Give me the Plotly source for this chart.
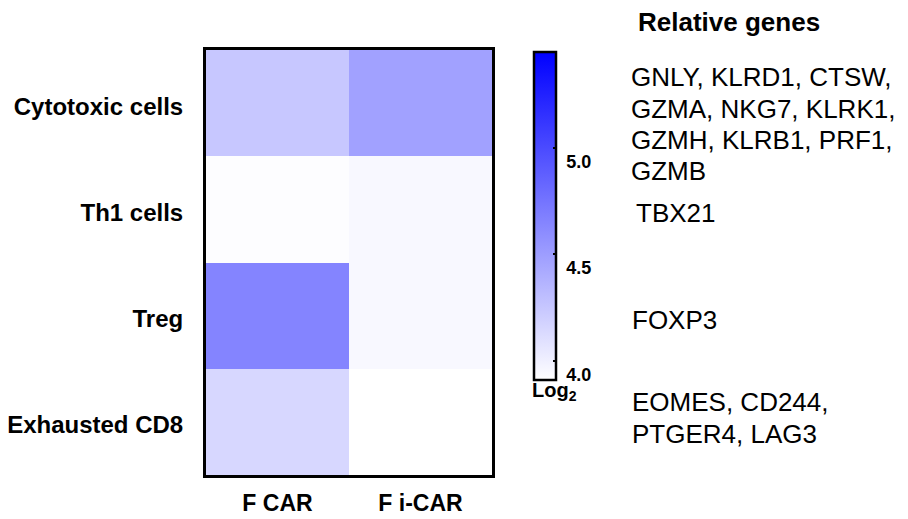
import plotly.graph_objects as go

# ---- data ----
cell_types = ["Cytotoxic cells", "Th1 cells", "Treg", "Exhausted CD8"]
groups = ["F CAR", "F i-CAR"]
f_car = [4.25, 3.92, 4.65, 4.15]
f_icar = [4.48, 3.95, 3.95, 3.91]
cbar_ticks = [4.0, 4.5, 5.0]
cbar_ticktext = ["4.0", "4.5", "5.0"]
cbar_title = "Log<sub>2</sub>"
genes_title = "Relative genes"
gene_lines = [
    ["GNLY, KLRD1, CTSW,", "GZMA, NKG7, KLRK1,", "GZMH, KLRB1, PRF1,", "GZMB"],
    ["TBX21"],
    ["FOXP3"],
    ["EOMES, CD244,", "PTGER4, LAG3"],
]
cmin, cmax = 3.91, 5.45

FONT = "Arial, Liberation Sans, sans-serif"
NBSP = "\u00a0"

W, H = 908, 519
L, R, T, B = 206, 492, 50, 475
pw, ph = R - L, B - T


def px(x):
    return (x - L) / pw


def py(y):
    return (B - y) / ph


z = [[a, b] for a, b in zip(f_car, f_icar)]

fig = go.Figure(
    go.Heatmap(
        z=z,
        x=groups,
        y=cell_types,
        zmin=cmin,
        zmax=cmax,
        colorscale=[[0, "#FFFFFF"], [1, "#0000FF"]],
        showscale=True,
        colorbar=dict(
            x=px(534),
            xanchor="left",
            xpad=0,
            y=py(52),
            yanchor="top",
            ypad=0,
            lenmode="pixels",
            len=328,
            thicknessmode="pixels",
            thickness=22,
            outlinecolor="black",
            outlinewidth=2.5,
            tickmode="array",
            tickvals=cbar_ticks,
            ticktext=[NBSP + t for t in cbar_ticktext],
            ticks="inside",
            ticklen=4,
            tickwidth=2,
            tickcolor="black",
            ticklabelposition="outside bottom",
            tickfont=dict(family=FONT, size=18, color="black", weight="bold"),
        ),
        hoverinfo="skip",
    )
)

fig.update_xaxes(
    automargin=False,
    showline=True,
    mirror=True,
    linewidth=3,
    linecolor="black",
    ticks="",
    ticklabelstandoff=5,
    tickfont=dict(family=FONT, size=23, color="black", weight="bold"),
    showgrid=False,
    zeroline=False,
)
fig.update_yaxes(
    automargin=False,
    autorange="reversed",
    showline=True,
    mirror=True,
    linewidth=3,
    linecolor="black",
    ticks="",
    ticklabelstandoff=15,
    ticklabelshift=-3,
    tickfont=dict(family=FONT, size=24, color="black", weight="bold"),
    showgrid=False,
    zeroline=False,
)

annotations = [
    dict(
        text=genes_title,
        x=px(636),
        y=py(22),
        xref="paper",
        yref="paper",
        xanchor="left",
        yanchor="middle",
        showarrow=False,
        font=dict(family=FONT, size=26, color="black", weight="bold"),
    ),
    dict(
        text=cbar_title,
        x=px(530),
        y=py(391),
        xref="paper",
        yref="paper",
        xanchor="left",
        yanchor="middle",
        showarrow=False,
        font=dict(family=FONT, size=20, color="black", weight="bold"),
    ),
]
line_y = [[77, 109, 140, 171], [213], [320], [402, 434]]
line_x = [629, 634, 630, 630]
for lines, ys, xx in zip(gene_lines, line_y, line_x):
    for txt, yy in zip(lines, ys):
        annotations.append(
            dict(
                text=txt,
                x=px(xx),
                y=py(yy),
                xref="paper",
                yref="paper",
                xanchor="left",
                yanchor="middle",
                align="left",
                showarrow=False,
                font=dict(family=FONT, size=26, color="black"),
            )
        )

fig.update_layout(
    width=W,
    height=H,
    margin=dict(l=L, r=W - R, t=T, b=H - B, pad=0, autoexpand=False),
    paper_bgcolor="white",
    plot_bgcolor="white",
    annotations=annotations,
    font=dict(family=FONT, color="black"),
)

fig.write_html(
    "out.html",
    config={"displayModeBar": False, "staticPlot": True},
    post_script="document.body.style.margin='0';",
)
